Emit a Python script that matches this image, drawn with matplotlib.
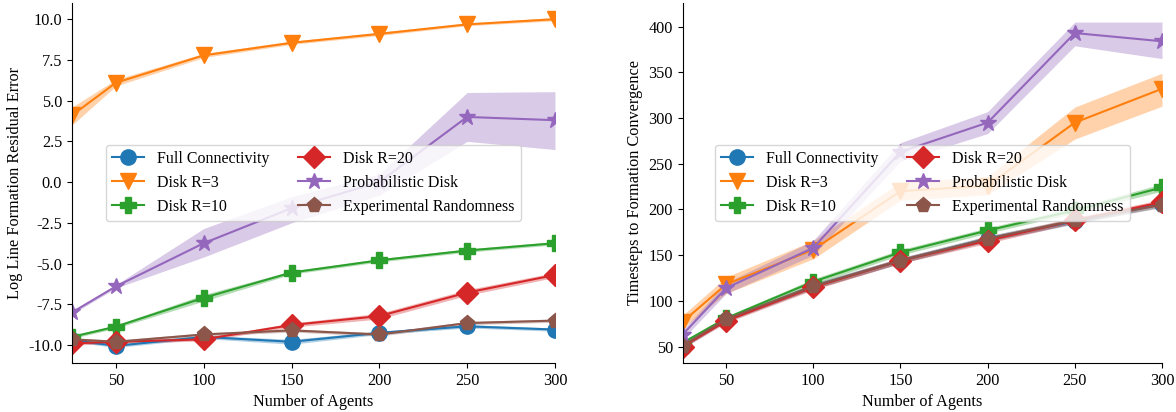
import numpy as np
import matplotlib
matplotlib.use('Agg')
from matplotlib import pyplot as plt

plt.rcParams['font.family'] = ['Liberation Serif', 'DejaVu Serif']
plt.rcParams['font.size'] = 11.7

agents = [25, 50, 100, 150, 200, 250, 300]
labels = ["Full Connectivity", "Disk R=3", "Disk R=10", "Disk R=20",
          "Probabilistic Disk", "Experimental Randomness"]
markers = ['o', 'v', 'P', 'D', '*', 'p']
colors = ['tab:blue', 'tab:orange', 'tab:green', 'tab:red', 'tab:purple', 'tab:brown']

# log line formation residual error (mean, lower, upper)
err_full = [-9.7, -10.05, -9.5, -9.8, -9.25, -8.85, -9.05]
err_full_lo = [-9.8, -10.15, -9.6, -9.95, -9.35, -8.95, -9.15]
err_full_hi = [-9.6, -9.95, -9.4, -9.65, -9.15, -8.75, -8.95]
err_r3 = [4.1, 6.1, 7.78, 8.55, 9.1, 9.68, 10.0]
err_r3_lo = [3.5, 5.9, 7.65, 8.45, 9.0, 9.6, 9.9]
err_r3_hi = [4.6, 6.3, 7.9, 8.65, 9.2, 9.76, 10.1]
err_r10 = [-9.5, -8.87, -7.1, -5.55, -4.8, -4.2, -3.75]
err_r10_lo = [-9.6, -8.97, -7.3, -5.65, -4.9, -4.3, -3.85]
err_r10_hi = [-9.4, -8.77, -6.9, -5.45, -4.7, -4.1, -3.65]
err_r20 = [-9.9, -9.8, -9.65, -8.77, -8.22, -6.78, -5.7]
err_r20_lo = [-10.0, -9.9, -9.75, -8.9, -8.4, -6.95, -5.85]
err_r20_hi = [-9.8, -9.7, -9.55, -8.65, -8.05, -6.6, -5.55]
err_prob = [-8.0, -6.4, -3.75, -1.6, 0.0, 4.0, 3.8]
err_prob_lo = [-8.1, -6.5, -4.6, -2.5, -0.8, 2.5, 2.0]
err_prob_hi = [-7.9, -6.3, -2.85, -0.9, 0.5, 5.5, 5.55]
err_exp = [-9.65, -9.8, -9.35, -9.1, -9.35, -8.65, -8.5]
err_exp_lo = [-9.75, -9.9, -9.45, -9.2, -9.45, -8.75, -8.6]
err_exp_hi = [-9.55, -9.7, -9.25, -9.0, -9.25, -8.55, -8.4]

# timesteps to formation convergence (mean, lower, upper)
ts_full = [50, 79, 116, 144, 168, 187, 206]
ts_full_lo = [48, 77, 113, 141, 165, 184, 203]
ts_full_hi = [52, 81, 119, 147, 171, 190, 209]
ts_r3 = [77, 118, 156, 220, 226, 295, 332]
ts_r3_lo = [70, 108, 146, 210, 216, 277, 313]
ts_r3_hi = [84, 126, 166, 230, 236, 312, 349]
ts_r10 = [54, 81, 121, 153, 177, 199, 224]
ts_r10_lo = [52, 79, 118, 150, 174, 196, 220]
ts_r10_hi = [56, 83, 124, 156, 180, 202, 228]
ts_r20 = [50, 78, 115, 144, 166, 188, 208]
ts_r20_lo = [48, 76, 112, 141, 163, 185, 205]
ts_r20_hi = [52, 80, 118, 147, 169, 191, 211]
ts_prob = [63, 114, 158, 263, 295, 393, 384]
ts_prob_lo = [58, 108, 150, 253, 283, 379, 365]
ts_prob_hi = [68, 120, 166, 273, 307, 405, 405]
ts_exp = [51, 80, 116, 144, 168, 188, 205]
ts_exp_lo = [49, 78, 113, 141, 165, 185, 202]
ts_exp_hi = [53, 82, 119, 147, 171, 191, 208]

left_series = [
    (err_full, err_full_lo, err_full_hi),
    (err_r3, err_r3_lo, err_r3_hi),
    (err_r10, err_r10_lo, err_r10_hi),
    (err_r20, err_r20_lo, err_r20_hi),
    (err_prob, err_prob_lo, err_prob_hi),
    (err_exp, err_exp_lo, err_exp_hi),
]
right_series = [
    (ts_full, ts_full_lo, ts_full_hi),
    (ts_r3, ts_r3_lo, ts_r3_hi),
    (ts_r10, ts_r10_lo, ts_r10_hi),
    (ts_r20, ts_r20_lo, ts_r20_hi),
    (ts_prob, ts_prob_lo, ts_prob_hi),
    (ts_exp, ts_exp_lo, ts_exp_hi),
]

fig = plt.figure(figsize=(11.76, 4.12), dpi=100)
ax1 = fig.add_axes([0.0612, 0.119, 0.4107, 0.874])
ax2 = fig.add_axes([0.5804, 0.119, 0.4077, 0.874])


def draw(ax, series, ylabel, ylim, yticks):
    for (mean, lo, hi), lab, m, c in zip(series, labels, markers, colors):
        ax.fill_between(agents, lo, hi, color=c, alpha=0.35, linewidth=0)
        ms = 12 if m == '*' else 11
        ax.plot(agents, mean, marker=m, color=c, label=lab, markersize=ms, linewidth=1.5)
    ax.set_xlim(25, 300)
    ax.set_ylim(*ylim)
    ax.set_xticks([50, 100, 150, 200, 250, 300])
    ax.set_yticks(yticks)
    ax.tick_params(labelsize=11.7)
    ax.set_xlabel("Number of Agents", fontsize=11.7)
    ax.set_ylabel(ylabel, fontsize=11.7)
    for s in ['top', 'right']:
        ax.spines[s].set_visible(False)
    ax.legend(loc='center', ncol=2, fontsize=11.5, columnspacing=1.8, handlelength=2.0)


draw(ax1, left_series, "Log Line Formation Residual Error", (-11.1, 11.0),
     [-10.0, -7.5, -5.0, -2.5, 0.0, 2.5, 5.0, 7.5, 10.0])
ax1.yaxis.set_major_formatter(matplotlib.ticker.FormatStrFormatter('%.1f'))
draw(ax2, right_series, "Timesteps to Formation Convergence", (32, 426),
     [50, 100, 150, 200, 250, 300, 350, 400])

plt.savefig("out.png")
